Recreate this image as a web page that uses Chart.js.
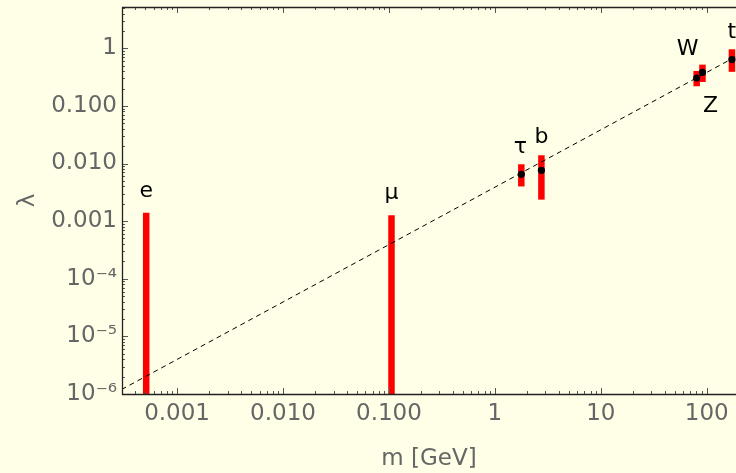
<!DOCTYPE html>
<html>
<head>
<meta charset="utf-8">
<script src="https://cdn.jsdelivr.net/npm/chart.js@4"></script>
<style>
  html, body { margin: 0; padding: 0; background: #FFFEE6; }
  canvas { display: block; }
</style>
</head>
<body>
<canvas id="chart" width="736" height="473"></canvas>
<script>
// particle data
const particles = ['e', 'μ', 'τ', 'b', 'W', 'Z', 't'];
const masses = [0.000511, 0.1057, 1.777, 2.75, 80.4, 91.2, 173];
const lambdaCentral = [null, null, 0.0065, 0.0076, 0.305, 0.38, 0.636];
const lambdaHigh = [0.0014, 0.00126, 0.0097, 0.0139, 0.404, 0.52, 0.96];
const lambdaLow = [1e-7, 1e-7, 0.0040, 0.00236, 0.219, 0.26, 0.39];

// dashed reference line endpoints
const lineMasses = [0.0003, 200];
const lineLambda = [1.2e-6, 0.76];

// axis ticks
const xTickValues = [0.001, 0.01, 0.1, 1, 10, 100];
const xTickLabels = ['0.001', '0.010', '0.100', '1', '10', '100'];
const yTickValues = [1e-6, 1e-5, 1e-4, 1e-3, 1e-2, 1e-1, 1];
const yTickLabels = ['10⁻⁶', '10⁻⁵', '10⁻⁴', '0.001', '0.010', '0.100', '1'];

const BG = '#FFFEE6';
const GREY = '#666666';
const FONT = 'DejaVu Sans';

// where each particle's name sits, relative to its bar end
const labelPlace = {
  'e': { anchor: 'high', dx: 0, dy: -16 },
  'μ': { anchor: 'high', dx: 0, dy: -16 },
  'τ': { anchor: 'high', dx: -1, dy: -11 },
  'b': { anchor: 'high', dx: 0, dy: -12 },
  'W': { anchor: 'high', dx: -9, dy: -16 },
  'Z': { anchor: 'low', dx: 8, dy: 30 },
  't': { anchor: 'high', dx: 0, dy: -11 }
};

const background = {
  id: 'background',
  beforeDraw(chart) {
    const ctx = chart.ctx;
    ctx.save();
    ctx.fillStyle = BG;
    ctx.fillRect(0, 0, chart.width, chart.height);
    ctx.restore();
  }
};

// Mathematica style frame with inward ticks
const frameTicks = {
  id: 'frameTicks',
  afterDraw(chart) {
    const { ctx, chartArea: a, scales: { x, y } } = chart;
    ctx.save();
    ctx.strokeStyle = '#555';
    ctx.lineWidth = 1;
    ctx.beginPath();
    for (let e = -5; e <= 3; e++) {
      for (let k = 1; k <= 9; k++) {
        const v = k * Math.pow(10, e);
        const len = k === 1 ? 6 : 3;
        if (v >= x.min && v <= x.max) {
          const px = Math.round(x.getPixelForValue(v)) + 0.5;
          ctx.moveTo(px, a.bottom); ctx.lineTo(px, a.bottom - len);
          ctx.moveTo(px, a.top); ctx.lineTo(px, a.top + len);
        }
      }
    }
    for (let e = -7; e <= 1; e++) {
      for (let k = 1; k <= 9; k++) {
        const v = k * Math.pow(10, e);
        const len = k === 1 ? 6 : 3;
        if (v >= y.min && v <= y.max) {
          const py = Math.round(y.getPixelForValue(v)) + 0.5;
          ctx.moveTo(a.left, py); ctx.lineTo(a.left + len, py);
        }
      }
    }
    ctx.stroke();

    ctx.strokeStyle = '#222';
    ctx.lineWidth = 1.3;
    ctx.beginPath();
    ctx.moveTo(a.right, a.top + 0.5);
    ctx.lineTo(a.left + 0.5, a.top + 0.5);
    ctx.lineTo(a.left + 0.5, a.bottom + 0.5);
    ctx.lineTo(a.right, a.bottom + 0.5);
    ctx.stroke();

    // particle names
    ctx.fillStyle = '#000';
    ctx.font = '22px "' + FONT + '"';
    ctx.textAlign = 'center';
    ctx.textBaseline = 'alphabetic';
    particles.forEach((name, i) => {
      const p = labelPlace[name];
      const val = p.anchor === 'low' ? lambdaLow[i] : lambdaHigh[i];
      const px = x.getPixelForValue(masses[i]) + p.dx;
      const py = y.getPixelForValue(val) + p.dy;
      ctx.fillText(name, px, py);
    });
    ctx.restore();
  }
};

// build datasets from the arrays
const datasets = [];
datasets.push({
  label: 'central',
  data: masses.map((m, i) => ({ x: m, y: lambdaCentral[i] })).filter(p => p.y !== null),
  pointRadius: 3.6,
  pointBackgroundColor: '#000',
  pointBorderWidth: 0,
  showLine: false
});
datasets.push({
  label: 'line',
  data: lineMasses.map((m, i) => ({ x: m, y: lineLambda[i] })),
  showLine: true,
  borderColor: '#000',
  borderWidth: 1,
  borderDash: [5, 4],
  pointRadius: 0
});
particles.forEach((name, i) => {
  datasets.push({
    label: name,
    data: [{ x: masses[i], y: lambdaLow[i] }, { x: masses[i], y: lambdaHigh[i] }],
    showLine: true,
    borderColor: '#FF0000',
    borderWidth: 6.5,
    borderCapStyle: 'butt',
    pointRadius: 0
  });
});

new Chart(document.getElementById('chart'), {
  type: 'scatter',
  data: { datasets: datasets },
  options: {
    responsive: false,
    animation: false,
    events: [],
    layout: { autoPadding: false, padding: { top: 7, right: 0, left: 0, bottom: 0 } },
    plugins: {
      legend: { display: false },
      tooltip: { enabled: false }
    },
    scales: {
      x: {
        type: 'logarithmic',
        bounds: 'data',
        min: 3.02e-4,
        max: 189,
        grid: { display: false, drawTicks: false },
        border: { display: false },
        afterBuildTicks: s => { s.ticks = xTickValues.map(v => ({ value: v })); },
        afterFit: s => { s.height = 79; s.paddingLeft = 0; s.paddingRight = 0; },
        ticks: {
          autoSkip: false,
          maxRotation: 0,
          padding: 6,
          color: GREY,
          font: { family: FONT, size: 23 },
          callback: (v, i) => xTickLabels[i]
        },
        title: {
          display: true,
          text: 'm [GeV]',
          color: GREY,
          font: { family: FONT, size: 23 },
          padding: { top: 0, bottom: 0 }
        }
      },
      y: {
        type: 'logarithmic',
        bounds: 'data',
        min: 1e-6,
        max: 5.2,
        grid: { display: false, drawTicks: false },
        border: { display: false },
        afterBuildTicks: s => { s.ticks = yTickValues.map(v => ({ value: v })); },
        afterFit: s => { s.width = 122; s.paddingTop = 0; s.paddingBottom = 0; },
        ticks: {
          autoSkip: false,
          padding: 5,
          color: GREY,
          font: { family: FONT, size: 23 },
          callback: (v, i) => yTickLabels[i]
        },
        title: {
          display: true,
          text: 'λ',
          color: GREY,
          font: { family: FONT, size: 23 },
          padding: { top: 14, bottom: 0 }
        }
      }
    }
  },
  plugins: [background, frameTicks]
});
</script>
</body>
</html>
